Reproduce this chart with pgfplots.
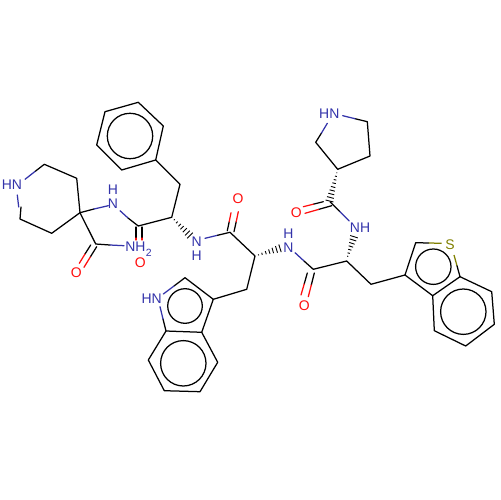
\documentclass[border=0pt]{standalone}
\usepackage{fontspec}
\setmainfont{Liberation Sans}
\usepackage{pgfplots}
\pgfplotsset{compat=1.18}
\definecolor{nblue}{RGB}{51,51,170}
\definecolor{ored}{RGB}{255,13,13}
\definecolor{solive}{RGB}{128,128,0}
\begin{document}
\begin{tikzpicture}[
    atom/.style={inner sep=0pt,font=\fontsize{14}{14}\selectfont},
  ]
  \begin{axis}[
      hide axis,
      scale only axis,
      width=500bp, height=500bp,
      xmin=0, xmax=500,
      ymin=0, ymax=500,
      y dir=reverse,
      clip=false,
      unbounded coords=jump,
      bond/.style={black,line width=1.25bp,line join=round,line cap=round},
      nb/.style={nblue,line width=1.25bp,line cap=round},
      ob/.style={ored,line width=1.25bp,line cap=round},
      hash/.style={black,line width=0.9bp},
      ring/.style={only marks,mark=o,mark size=#1bp,mark options={black,line width=1.25bp}},
    ]
    % page extent
    \addplot[draw=none] coordinates {(0,0) (500,500)};

    % piperidine
    \addplot[bond] coordinates {(21,207) (20,219) (51.7,233.3) (80,212.7) (76.7,178.3) (44.3,164.3) (35,171.5)};
    \addplot[nb] coordinates {(17.3,195) (18.7,207)};
    \addplot[nb] coordinates {(25,179.3) (35,171.5)};
    % quaternary C, NH, amide
    \addplot[bond] coordinates {(80,212.7) (94,209)};
    \addplot[nb] coordinates {(94,209) (108.3,205.7)};
    \addplot[nb] coordinates {(120,210.7) (128,218)};
    \addplot[bond] coordinates {(128,218) (138.3,226) (171.7,217.3) (180,184.3) (155.7,160)};
    \addplot[bond] coordinates {(136,227) (136,238)};
    \addplot[bond] coordinates {(142,227) (142,238)};
    \addplot[ob] coordinates {(136,238) (136,240)};
    \addplot[ob] coordinates {(142,238) (142,240)};
    % phenyl
    \addplot[bond] coordinates {(155.7,160) (163.3,126) (138.3,102.3) (105,111.7) (96.7,145) (121.7,170) (155.7,160)};
    \addplot[ring=22.7] coordinates {(130,136)};
    % carboxamide on quaternary C
    \addplot[bond] coordinates {(80,212.7) (95.7,244) (110,245)};
    \addplot[nb] coordinates {(110,245) (124,245.7)};
    \addplot[bond] coordinates {(90.7,245) (85,254)};
    \addplot[ob] coordinates {(85,254) (79.3,263.3)};
    \addplot[bond] coordinates {(96.7,246.7) (90.3,257)};
    \addplot[ob] coordinates {(90.3,257) (84,267.3)};
    % peptide 2
    \addplot[hash,forget plot] coordinates {(173.9,220.2) (174.7,219.4) (nan,nan) (176,223.2) (177.6,221.6) (nan,nan) (178.4,226.3) (180.8,223.9) (nan,nan) (180.5,229.3) (183.7,226.1) (nan,nan) (182.7,232.2) (186.7,228.2) (nan,nan) (185,235.4) (189.8,230.6) (nan,nan) (187.2,238.3) (192.8,232.7)};
    \addplot[nb] coordinates {(205,238.3) (217.5,235.3)};
    \addplot[bond] coordinates {(217.5,235.3) (230,232.3) (255,256) (246.7,289.3) (213.3,299.3)};
    \addplot[bond] coordinates {(227.3,230.7) (229.2,221.7)};
    \addplot[ob] coordinates {(229.2,221.7) (231,212.7)};
    \addplot[bond] coordinates {(234,231.7) (236.2,221.7)};
    \addplot[ob] coordinates {(236.2,221.7) (238.3,211.7)};
    % indole
    \addplot[bond] coordinates {(174,286) (185,277.7) (213.3,299.3) (201.7,332.3) (166,331) (163,319)};
    \addplot[nb] coordinates {(163.3,294) (174,286)};
    \addplot[nb] coordinates {(160,306.7) (163,319)};
    \addplot[bond] coordinates {(166,331) (148.3,360) (164.3,390.7) (200,391.7) (217.7,362.3) (201.7,332.3)};
    \addplot[ring=17.3] coordinates {(185,306)};
    \addplot[ring=22.7] coordinates {(183.3,363.3)};
    % peptide 3
    \addplot[hash] coordinates {(258.3,254.4) (258.7,255.4) (nan,nan) (261.7,252.7) (262.3,254.9) (nan,nan) (265.3,251.1) (266.3,254.3) (nan,nan) (268.6,249.4) (270,253.8) (nan,nan) (272,247.8) (273.6,253.2) (nan,nan) (275.5,246.1) (277.5,252.7) (nan,nan) (278.8,244.5) (281.2,252.1)};
    \addplot[nb] coordinates {(295,252.7) (304,261)};
    \addplot[bond] coordinates {(304,261) (313.3,269.3) (346.7,261) (371,284.3) (405,275)};
    \addplot[bond] coordinates {(307.3,273) (304.2,284)};
    \addplot[ob] coordinates {(304.2,284) (301,295)};
    \addplot[bond] coordinates {(314.3,273) (311.3,285)};
    \addplot[ob] coordinates {(311.3,285) (308.3,296.7)};
    % peptide 4
    \addplot[hash] coordinates {(347.2,256.1) (348.2,256.5) (nan,nan) (347.6,252.8) (349.8,253.4) (nan,nan) (348.2,249.2) (351.4,250.2) (nan,nan) (348.7,245.8) (353.1,247.2) (nan,nan) (349.2,242.4) (354.6,244.2) (nan,nan) (349.7,238.9) (356.3,241) (nan,nan) (350.2,235.5) (357.8,237.9)};
    \addplot[nb] coordinates {(349.3,221) (339.6,211.3)};
    \addplot[bond] coordinates {(339.6,211.3) (330,201.7)};
    \addplot[bond] coordinates {(323.3,201.7) (313.3,204.2)};
    \addplot[ob] coordinates {(313.3,204.2) (303.3,206.7)};
    \addplot[bond] coordinates {(331.7,205.7) (318.3,209.5)};
    \addplot[ob] coordinates {(318.3,209.5) (305,213.3)};
    \addplot[hash] coordinates {(336.4,172.7) (337.2,172.9) (nan,nan) (335,176.1) (336.8,176.5) (nan,nan) (333.7,179.5) (336.3,180.1) (nan,nan) (332.4,182.8) (335.8,183.6) (nan,nan) (330.9,186.4) (335.3,187.6) (nan,nan) (329.6,189.8) (334.8,191.2) (nan,nan) (328.3,193.2) (334.3,194.8) (nan,nan) (327,196.6) (333.8,198.4) (nan,nan) (325.6,200) (333.4,202)};
    % pyrrolidine
    \addplot[bond] coordinates {(321.5,133) (315.7,142.3) (337.7,169.3) (370,156) (367.3,121.7) (355,118.7)};
    \addplot[nb] coordinates {(327.3,123.3) (321.5,133)};
    \addplot[nb] coordinates {(342.7,115.7) (355,118.7)};
    % benzothiophene
    \addplot[bond] coordinates {(405,275) (415.7,242.7) (428.7,243)};
    \addplot[solive,line width=1.25bp] coordinates {(428.7,243) (441.7,243.3)};
    \addplot[solive,line width=1.25bp] coordinates {(454,255) (457,265.8)};
    \addplot[bond] coordinates {(457,265.8) (460,276.7) (432.7,295.7) (405,275)};
    \addplot[bond] coordinates {(460,276.7) (491.7,291.7) (494.3,324.3) (465.7,346) (434.3,330.7) (432.7,295.7)};
    \addplot[ring=17.7] coordinates {(433.3,266.7)};
    \addplot[ring=22.7] coordinates {(463.3,311.7)};

    % atom labels
    \node[atom,text=nblue] at (axis cs:12,185) {HN};
    \node[atom,text=nblue] at (axis cs:113,204) {N};
    \node[atom,text=nblue] at (axis cs:113,190) {H};
    \node[atom,text=nblue] at (axis cs:135.5,247) {NH};
    \node[atom,text=nblue,font=\fontsize{10.5}{10.5}\selectfont] at (axis cs:148.7,252.5) {2};
    \node[atom,text=ored] at (axis cs:140.4,262.5) {O};
    \node[atom,text=ored] at (axis cs:76.3,272.7) {O};
    \node[atom,text=ored] at (axis cs:238,199) {O};
    \node[atom,text=nblue] at (axis cs:196.7,241.7) {N};
    \node[atom,text=nblue] at (axis cs:196.7,255.7) {H};
    \node[atom,text=nblue] at (axis cs:151.7,298.3) {HN};
    \node[atom,text=nblue] at (axis cs:288.3,247.7) {N};
    \node[atom,text=nblue] at (axis cs:288.3,233.3) {H};
    \node[atom,text=ored] at (axis cs:304.3,305.3) {O};
    \node[atom,text=nblue] at (axis cs:360,228) {NH};
    \node[atom,text=ored] at (axis cs:296.3,213) {O};
    \node[atom,text=nblue] at (axis cs:329.3,114) {HN};
    \node[atom,text=solive] at (axis cs:450,245) {S};
  \end{axis}
\end{tikzpicture}
\end{document}
